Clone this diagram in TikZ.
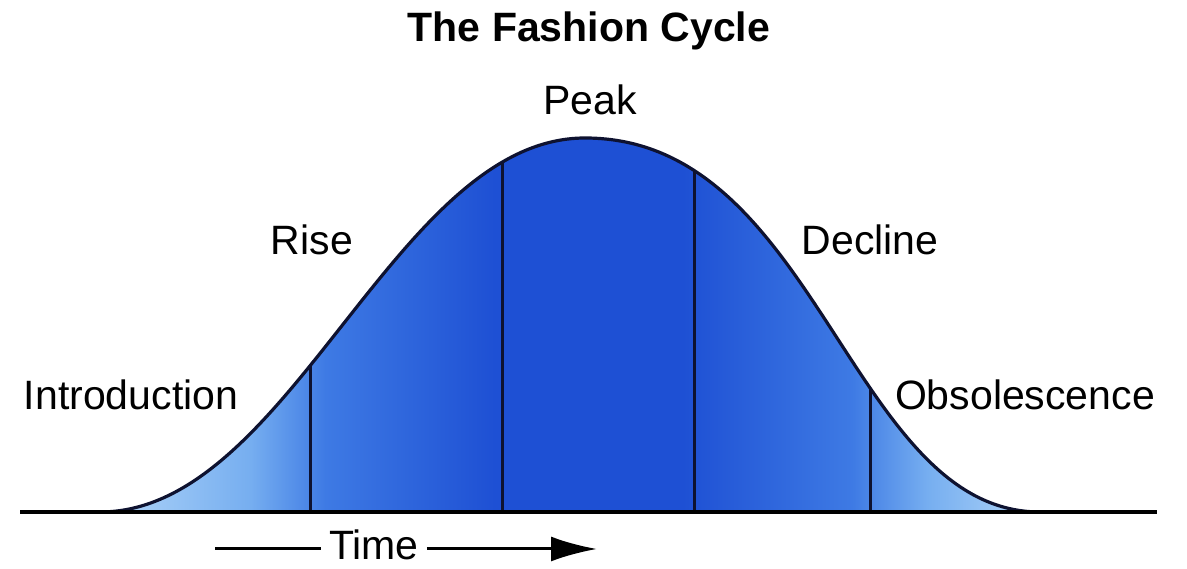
\documentclass[tikz,border=0pt]{standalone}
\usepackage{fontspec}
\setmainfont{Liberation Sans}
\usepackage{tikz}
\usetikzlibrary{arrows.meta,positioning}
\usepackage{xcolor}

\definecolor{tailblue}{RGB}{178,214,248}
\definecolor{lowblue}{RGB}{118,174,240}
\definecolor{riseblue}{RGB}{62,122,228}
\definecolor{peakblue}{RGB}{30,80,212}
\definecolor{inkline}{RGB}{14,18,48}

% light at the tails, dark in the middle
\pgfdeclarehorizontalshading{fashionblue}{100bp}{%
  color(0bp)=(tailblue); color(25bp)=(tailblue); color(33bp)=(lowblue);
  color(37bp)=(riseblue); color(46bp)=(peakblue); color(56bp)=(peakblue);
  color(65bp)=(riseblue); color(69bp)=(lowblue); color(75bp)=(tailblue);
  color(100bp)=(tailblue)}

\newcommand{\bellcurve}{(100,57) .. controls (290,57) and (395,431) .. (585,431)
  .. controls (818,431) and (850,57) .. (1040,57)}

\begin{document}
\begin{tikzpicture}[x=1pt,y=1pt,
   >={Latex[length=46pt,width=25pt]},
   bigtext/.style={font=\fontsize{41}{49}\selectfont,inner sep=0pt,anchor=base},
   phase/.style={bigtext},
   bellfill/.style={shade,shading=fashionblue},
   bellline/.style={draw=inkline,line width=3.2pt},
   divider/.style={inkline,line width=3pt},
   timeline/.style={black,line width=3pt}]
  \useasboundingbox (0,0) rectangle (1187,569);
  % the curve
  \path[bellfill] \bellcurve -- cycle;
  \begin{scope}
    \clip \bellcurve -- cycle;
    \foreach \xd in {310,502,694,870}
      \draw[divider] (\xd,40) -- (\xd,460);
  \end{scope}
  \draw[bellline] \bellcurve;
  \draw[black,line width=3.5pt] (20,57) -- (1157,57);
  % title and phases
  \node[bigtext,font=\fontsize{41}{49}\selectfont\bfseries] (title) at (589,527) {The Fashion Cycle};
  \node[phase] (peak) at (590,454) {Peak};
  \node[phase] (rise) at (312,314) {Rise};
  \node[phase] (decline) at (870,314) {Decline};
  \node[phase] (intro) at (131,159) {Introduction};
  \node[phase] (obsol) at (1025,159) {Obsolescence};
  % time axis
  \node[phase,inner xsep=8pt] (time) at (374,9) {Time};
  \coordinate (tstart) at (215,20);
  \coordinate (tend) at (597,20);
  \draw[timeline] (tstart) -- (tstart -| time.west);
  \draw[timeline,->] (tstart -| time.east) -- (tend);
\end{tikzpicture}
\end{document}
